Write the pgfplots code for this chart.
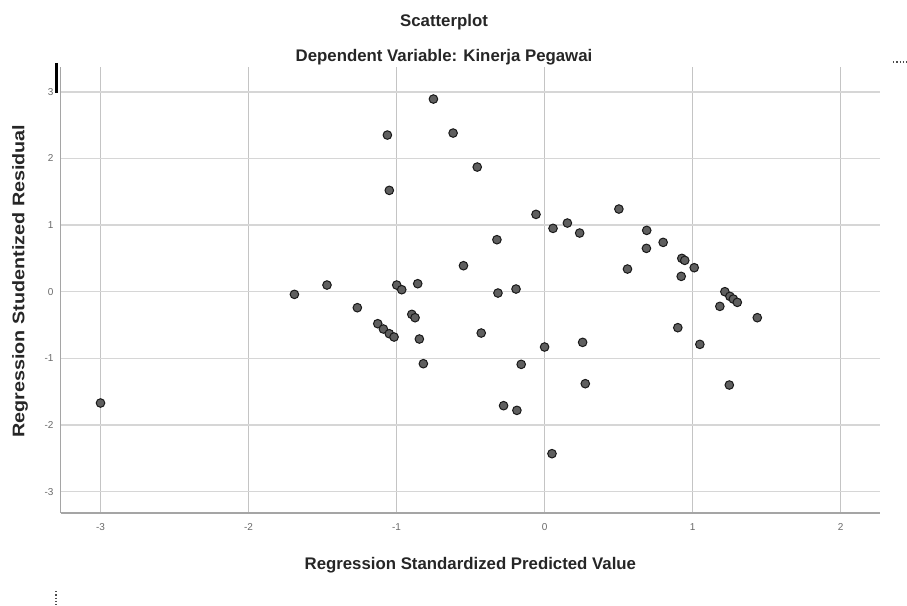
\documentclass[border=0pt]{standalone}
\usepackage{fontspec}
\setmainfont{Liberation Sans}
\usepackage{pgfplots}
\pgfplotsset{compat=1.18}

\definecolor{gridh}{RGB}{214,214,214}
\definecolor{gridv}{RGB}{196,196,196}
\definecolor{axisgray}{RGB}{165,165,165}
\definecolor{markfill}{RGB}{95,95,95}
\definecolor{ticktext}{RGB}{105,105,105}

\begin{document}
\begin{tikzpicture}[x=1pt,y=1pt]
\path[use as bounding box] (0,0) rectangle (907,605);

\begin{axis}[
    at={(60.7pt,92pt)}, anchor=south west,
    scale only axis, width=819.3pt, height=446pt,
    xmin=-3.269, xmax=2.266,
    ymin=-3.32, ymax=3.371,
    xtick={-3,-2,-1,0,1,2},
    ytick={-3,-2,-1,0,1,2,3},
    axis lines*=left,
    axis line style={-, draw=axisgray, line width=1.6pt},
    major tick length=0pt,
    grid=major,
    x grid style={gridv, line width=0.8pt},
    y grid style={gridh, line width=1.6pt},
    tick label style={font=\fontsize{10}{11}\selectfont, text=ticktext},
    /pgf/number format/assume math mode=true,
    xticklabel style={anchor=north, inner sep=0pt, yshift=-10pt},
    yticklabel style={anchor=east, inner sep=0pt, xshift=-7pt},
    xlabel={Regression Standardized Predicted Value},
    ylabel={\scalebox{1.177}[1]{Regression Studentized Residual}},
    every axis x label/.style={at={(axis description cs:0.5,0)}, anchor=base,
        yshift=-56pt, font=\fontsize{16.8}{18}\selectfont\bfseries, text=black!85},
    every axis y label/.style={at={(axis description cs:0,0.52)}, xshift=-40.7pt,
        anchor=center, rotate=90, font=\fontsize{16.8}{18}\selectfont\bfseries, text=black!85},
]

\addplot[only marks, mark=*, mark size=4.3pt,
    mark options={fill=markfill, draw=black!90, line width=1pt}]
coordinates {
    (-3.000,-1.67) (-1.690,-0.04) (-1.470,0.10) (-1.265,-0.24)
    (-1.127,-0.48) (-1.089,-0.56) (-1.049,-0.63) (-1.017,-0.68)
    (-1.062,2.35) (-1.049,1.52) (-0.999,0.10) (-0.965,0.03)
    (-0.897,-0.34) (-0.875,-0.39) (-0.857,0.12) (-0.846,-0.71)
    (-0.819,-1.08) (-0.751,2.89) (-0.618,2.38) (-0.548,0.39)
    (-0.455,1.87) (-0.428,-0.62) (-0.322,0.78) (-0.315,-0.02)
    (-0.277,-1.71) (-0.193,0.04) (-0.187,-1.78) (-0.158,-1.09)
    (-0.058,1.16) (0.000,-0.83) (0.050,-2.43) (0.057,0.95)
    (0.154,1.03) (0.237,0.88) (0.257,-0.76) (0.275,-1.38)
    (0.502,1.24) (0.560,0.34) (0.690,0.92) (0.688,0.65)
    (0.801,0.74) (0.900,-0.54) (0.923,0.23) (0.927,0.50)
    (0.947,0.47) (1.011,0.36) (1.049,-0.79) (1.184,-0.22)
    (1.218,0.00) (1.252,-0.07) (1.275,-0.11) (1.302,-0.16)
    (1.248,-1.40) (1.437,-0.39)
};
\end{axis}

% titles
\node[anchor=base, font=\fontsize{16.8}{18}\selectfont\bfseries, text=black!85] at (444,578) {Scatterplot};
\node[anchor=base, font=\fontsize{16.8}{18}\selectfont\bfseries, text=black!85] at (444,543) {Dependent Variable: Kinerja Pegawai};

% stray marks of the screenshot
\draw[black, line width=3pt] (56.5,542) -- (56.5,512);
\draw[black!70, dotted, line width=1.3pt] (893,543) -- (907,543);
\draw[black!70, dotted, line width=1.3pt] (56,14) -- (56,0);

\end{tikzpicture}
\end{document}
